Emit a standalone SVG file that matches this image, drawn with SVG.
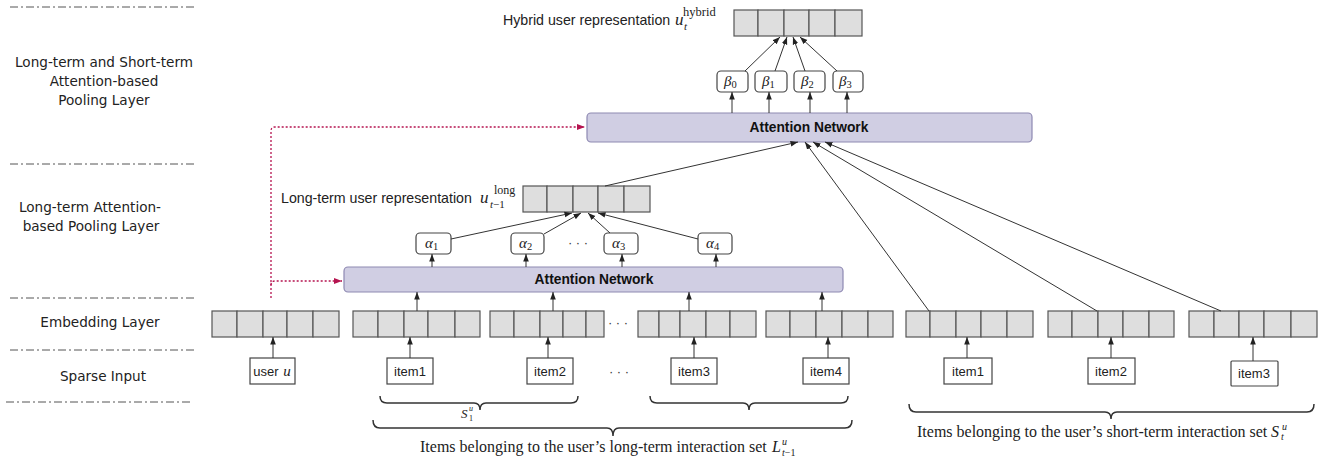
<svg xmlns="http://www.w3.org/2000/svg" width="1328" height="460" viewBox="0 0 1328 460">
<style>
.sep{stroke:#555;stroke-width:1;stroke-dasharray:8 3 2 3;fill:none}
.lay{font-family:"DejaVu Sans",sans-serif;font-size:13.6px;fill:#222;text-anchor:middle}
.cell{fill:#dedede;stroke:#555;stroke-width:1.2}
.att{fill:#d0cee3;stroke:#8e89b2;stroke-width:1.2}
.attt{font-family:"Liberation Sans",Arial,sans-serif;font-size:13.8px;font-weight:bold;fill:#111;text-anchor:middle}
.wbox{fill:#fff;stroke:#444;stroke-width:1.2}
.sans{font-family:"Liberation Sans",Arial,sans-serif;font-size:14.2px;fill:#222}
.itm{font-family:"Liberation Sans",Arial,sans-serif;font-size:13px;fill:#222;text-anchor:middle}
.m{font-family:"Liberation Serif","Times New Roman",serif;fill:#222}
.mi{font-family:"Liberation Serif","Times New Roman",serif;font-style:italic;fill:#222}
.ar{stroke:#333;stroke-width:1;fill:none;marker-end:url(#ah)}
.red{stroke:#b5134f;stroke-width:1.3;stroke-dasharray:2 2;fill:none}
.brace{stroke:#333;stroke-width:1.5;fill:none}
.dots{font-family:"Liberation Sans",Arial,sans-serif;font-size:13px;fill:#333;text-anchor:middle}
</style>
<defs>
<marker id="ah" viewBox="0 0 8 6" refX="8" refY="3" markerWidth="7.5" markerHeight="6.5" markerUnits="userSpaceOnUse" orient="auto"><path d="M0,0 L8,3 L0,6 z" fill="#222"/></marker>
<marker id="ahr" viewBox="0 0 8 6" refX="8" refY="3" markerWidth="8" markerHeight="7" markerUnits="userSpaceOnUse" orient="auto"><path d="M0,0 L8,3 L0,6 z" fill="#b5134f"/></marker>
</defs>
<rect width="1328" height="460" fill="#fff"/>

<g id="layers">
<line class="sep" x1="10" y1="7" x2="196" y2="7"/>
<line class="sep" x1="10" y1="164" x2="196" y2="164"/>
<line class="sep" x1="10" y1="298" x2="196" y2="298"/>
<line class="sep" x1="10" y1="350" x2="194" y2="350"/>
<line class="sep" x1="6" y1="402" x2="192" y2="402"/>
<text class="lay" x="104" y="67">Long-term and Short-term</text>
<text class="lay" x="104" y="86">Attention-based</text>
<text class="lay" x="104" y="105">Pooling Layer</text>
<text class="lay" x="90" y="212">Long-term Attention-</text>
<text class="lay" x="91" y="231">based Pooling Layer</text>
<text class="lay" x="100" y="327">Embedding Layer</text>
<text class="lay" x="103" y="381">Sparse Input</text>
</g>

<g id="hybrid">
<rect class="cell" x="734" y="10" width="24" height="26"/><rect class="cell" x="758" y="10" width="26" height="26"/><rect class="cell" x="784" y="10" width="25" height="26"/><rect class="cell" x="809" y="10" width="26" height="26"/><rect class="cell" x="835" y="10" width="27" height="26"/>
<text class="sans" x="503" y="25">Hybrid user representation</text>
<text class="mi" x="675" y="25" font-size="17">u</text>
<text class="mi" x="684" y="30" font-size="11">t</text>
<text class="m" x="683" y="16" font-size="12.5">hybrid</text>
</g>

<g id="betas">
<rect class="wbox" x="717" y="71" width="31" height="21" rx="4"/>
<rect class="wbox" x="755" y="71" width="32" height="21" rx="4"/>
<rect class="wbox" x="794" y="71" width="31" height="21" rx="4"/>
<rect class="wbox" x="833" y="71" width="30" height="21" rx="4"/>
<text class="mi" x="724" y="86" font-size="15">β<tspan class="m" font-style="normal" font-size="10.5" dy="2">0</tspan></text>
<text class="mi" x="762" y="86" font-size="15">β<tspan class="m" font-style="normal" font-size="10.5" dy="2">1</tspan></text>
<text class="mi" x="801" y="86" font-size="15">β<tspan class="m" font-style="normal" font-size="10.5" dy="2">2</tspan></text>
<text class="mi" x="839" y="86" font-size="15">β<tspan class="m" font-style="normal" font-size="10.5" dy="2">3</tspan></text>
</g>

<g id="att-top">
<rect class="att" x="587" y="113" width="445" height="29" rx="4"/>
<text class="attt" x="809" y="132">Attention Network</text>
</g>

<g id="longvec">
<rect class="cell" x="523" y="186" width="24" height="26"/><rect class="cell" x="547" y="186" width="26" height="26"/><rect class="cell" x="573" y="186" width="25" height="26"/><rect class="cell" x="598" y="186" width="26" height="26"/><rect class="cell" x="624" y="186" width="26" height="26"/>
<text class="sans" x="281" y="203">Long-term user representation</text>
<text class="mi" x="480" y="203" font-size="17">u</text>
<text class="m" x="494" y="194" font-size="12">long</text>
<text class="mi" x="490" y="208" font-size="11">t<tspan class="m" font-style="normal">−1</tspan></text>
</g>

<g id="alphas">
<rect class="wbox" x="416" y="233" width="35" height="21" rx="4"/>
<rect class="wbox" x="511" y="233" width="33" height="21" rx="4"/>
<rect class="wbox" x="604" y="233" width="34" height="21" rx="4"/>
<rect class="wbox" x="698" y="233" width="34" height="21" rx="4"/>
<text class="mi" x="425" y="248" font-size="15">α<tspan class="m" font-style="normal" font-size="10.5" dy="2">1</tspan></text>
<text class="mi" x="519" y="248" font-size="15">α<tspan class="m" font-style="normal" font-size="10.5" dy="2">2</tspan></text>
<text class="mi" x="612" y="248" font-size="15">α<tspan class="m" font-style="normal" font-size="10.5" dy="2">3</tspan></text>
<text class="mi" x="706" y="248" font-size="15">α<tspan class="m" font-style="normal" font-size="10.5" dy="2">4</tspan></text>
<text class="dots" x="578" y="247">· · ·</text>
</g>

<g id="att-low">
<rect class="att" x="344" y="267" width="499" height="25" rx="4"/>
<text class="attt" x="594" y="284">Attention Network</text>
</g>

<g id="emb-user">
<rect class="cell" x="212" y="311" width="25" height="26"/><rect class="cell" x="237" y="311" width="26" height="26"/><rect class="cell" x="263" y="311" width="24" height="26"/><rect class="cell" x="287" y="311" width="26" height="26"/><rect class="cell" x="313" y="311" width="26" height="26"/>
</g>
<g id="emb-l1">
<rect class="cell" x="353" y="311" width="25" height="26"/><rect class="cell" x="378" y="311" width="26" height="26"/><rect class="cell" x="404" y="311" width="24" height="26"/><rect class="cell" x="428" y="311" width="27" height="26"/><rect class="cell" x="455" y="311" width="25" height="26"/>
</g>
<g id="emb-l2">
<rect class="cell" x="490" y="311" width="24" height="26"/><rect class="cell" x="514" y="311" width="26" height="26"/><rect class="cell" x="540" y="311" width="23" height="26"/><rect class="cell" x="563" y="311" width="23" height="26"/><rect class="cell" x="586" y="311" width="18" height="26"/>
</g>
<g id="emb-l3">
<rect class="cell" x="638" y="311" width="21" height="26"/><rect class="cell" x="659" y="311" width="21" height="26"/><rect class="cell" x="680" y="311" width="26" height="26"/><rect class="cell" x="706" y="311" width="24" height="26"/><rect class="cell" x="730" y="311" width="26" height="26"/>
</g>
<g id="emb-l4">
<rect class="cell" x="766" y="311" width="24" height="26"/><rect class="cell" x="790" y="311" width="26" height="26"/><rect class="cell" x="816" y="311" width="26" height="26"/><rect class="cell" x="842" y="311" width="26" height="26"/><rect class="cell" x="868" y="311" width="25" height="26"/>
</g>
<g id="emb-s1">
<rect class="cell" x="906" y="311" width="24" height="26"/><rect class="cell" x="930" y="311" width="26" height="26"/><rect class="cell" x="956" y="311" width="25" height="26"/><rect class="cell" x="981" y="311" width="26" height="26"/><rect class="cell" x="1007" y="311" width="26" height="26"/>
</g>
<g id="emb-s2">
<rect class="cell" x="1048" y="311" width="24" height="26"/><rect class="cell" x="1072" y="311" width="26" height="26"/><rect class="cell" x="1098" y="311" width="25" height="26"/><rect class="cell" x="1123" y="311" width="26" height="26"/><rect class="cell" x="1149" y="311" width="25" height="26"/>
</g>
<g id="emb-s3">
<rect class="cell" x="1189" y="311" width="25" height="26"/><rect class="cell" x="1214" y="311" width="25" height="26"/><rect class="cell" x="1239" y="311" width="25" height="26"/><rect class="cell" x="1264" y="311" width="27" height="26"/><rect class="cell" x="1291" y="311" width="26" height="26"/>
</g>
<text class="dots" x="618" y="327">· · ·</text>

<g id="in-user"><rect class="wbox" x="250" y="358" width="45" height="26"/><text class="itm" x="266" y="376">user</text><text class="mi" x="287" y="376" font-size="15" text-anchor="middle">u</text></g>
<g id="in-l1"><rect class="wbox" x="387" y="358" width="46" height="26"/><text class="itm" x="410" y="376">item1</text></g>
<g id="in-l2"><rect class="wbox" x="527" y="358" width="46" height="26"/><text class="itm" x="550" y="376">item2</text></g>
<g id="in-l3"><rect class="wbox" x="671" y="358" width="46" height="26"/><text class="itm" x="694" y="376">item3</text></g>
<g id="in-l4"><rect class="wbox" x="803" y="358" width="46" height="26"/><text class="itm" x="826" y="376">item4</text></g>
<g id="in-s1"><rect class="wbox" x="944" y="358" width="48" height="26"/><text class="itm" x="968" y="376">item1</text></g>
<g id="in-s2"><rect class="wbox" x="1088" y="358" width="47" height="26"/><text class="itm" x="1111" y="376">item2</text></g>
<g id="in-s3"><rect class="wbox" x="1231" y="361" width="47" height="25" rx="1"/><text class="itm" x="1254" y="378">item3</text></g>
<text class="dots" x="619" y="376">· · ·</text>

<g id="braces">
<path class="brace" d="M380,396 Q380,403 387,403 L474,403 Q480,403 480,410 Q480,403 486,403 L571,403 Q578,403 578,396"/>
<path class="brace" d="M650,396 Q650,403 657,403 L743,403 Q749,403 749,410 Q749,403 755,403 L841,403 Q848,403 848,396"/>
<path class="brace" d="M373,420 Q373,428 380,428 L607,428 Q613,428 613,436 Q613,428 619,428 L845,428 Q852,428 852,420"/>
<path class="brace" d="M909,404 Q909,412 916,412 L1105,412 Q1111,412 1111,419 Q1111,412 1117,412 L1307,412 Q1314,412 1314,404"/>
<text class="mi" x="461" y="418" font-size="13">S</text>
<text class="m" x="469" y="421" font-size="8">1</text>
<text class="mi" x="469" y="411" font-size="8">u</text>
<text class="m" x="420" y="452" font-size="16">Items belonging to the user’s long-term interaction set</text>
<text class="mi" x="772" y="452" font-size="16">L</text>
<text class="mi" x="782" y="456" font-size="10">t<tspan class="m" font-style="normal">−1</tspan></text>
<text class="mi" x="782" y="445" font-size="10">u</text>
<text class="m" x="917" y="437" font-size="16">Items belonging to the user’s short-term interaction set</text>
<text class="mi" x="1271" y="437" font-size="16">S</text>
<text class="mi" x="1281" y="440" font-size="10">t</text>
<text class="mi" x="1282" y="430" font-size="10">u</text>
</g>

<g id="connectors">
<path class="red" d="M271,298 L271,131 Q271,127 275,127 L585,127" marker-end="url(#ahr)"/>
<path class="red" d="M271,285 Q271,281 275,281 L342,281" marker-end="url(#ahr)"/>
<line class="ar" x1="273" y1="358" x2="273" y2="337"/>
<line class="ar" x1="410" y1="358" x2="410" y2="337"/>
<line class="ar" x1="548" y1="358" x2="548" y2="337"/>
<line class="ar" x1="694" y1="358" x2="694" y2="337"/>
<line class="ar" x1="828" y1="358" x2="828" y2="337"/>
<line class="ar" x1="967" y1="358" x2="967" y2="337"/>
<line class="ar" x1="1111" y1="358" x2="1111" y2="337"/>
<line class="ar" x1="1253" y1="361" x2="1253" y2="337"/>
<line class="ar" x1="417" y1="311" x2="417" y2="292"/>
<line class="ar" x1="553" y1="311" x2="553" y2="292"/>
<line class="ar" x1="689" y1="311" x2="689" y2="292"/>
<line class="ar" x1="822" y1="311" x2="822" y2="292"/>
<line class="ar" x1="432" y1="267" x2="432" y2="254"/>
<line class="ar" x1="526" y1="267" x2="526" y2="254"/>
<line class="ar" x1="622" y1="267" x2="622" y2="254"/>
<line class="ar" x1="716" y1="267" x2="716" y2="254"/>
<line class="ar" x1="451" y1="239" x2="572" y2="213"/>
<line class="ar" x1="544" y1="234" x2="581" y2="213"/>
<line class="ar" x1="610" y1="233" x2="588" y2="213"/>
<line class="ar" x1="698" y1="239" x2="598" y2="213"/>
<line class="ar" x1="605" y1="186" x2="798" y2="142"/>
<line class="ar" x1="929" y1="311" x2="805" y2="142"/>
<line class="ar" x1="1097" y1="311" x2="813" y2="142"/>
<line class="ar" x1="1221" y1="311" x2="825" y2="142"/>
<line class="ar" x1="732" y1="113" x2="732" y2="92"/>
<line class="ar" x1="769" y1="113" x2="769" y2="92"/>
<line class="ar" x1="810" y1="113" x2="810" y2="92"/>
<line class="ar" x1="847" y1="113" x2="847" y2="92"/>
<line class="ar" x1="745" y1="71" x2="780" y2="37"/>
<line class="ar" x1="775" y1="71" x2="787" y2="37"/>
<line class="ar" x1="805" y1="71" x2="793" y2="37"/>
<line class="ar" x1="837" y1="71" x2="800" y2="37"/>
</g>
</svg>
